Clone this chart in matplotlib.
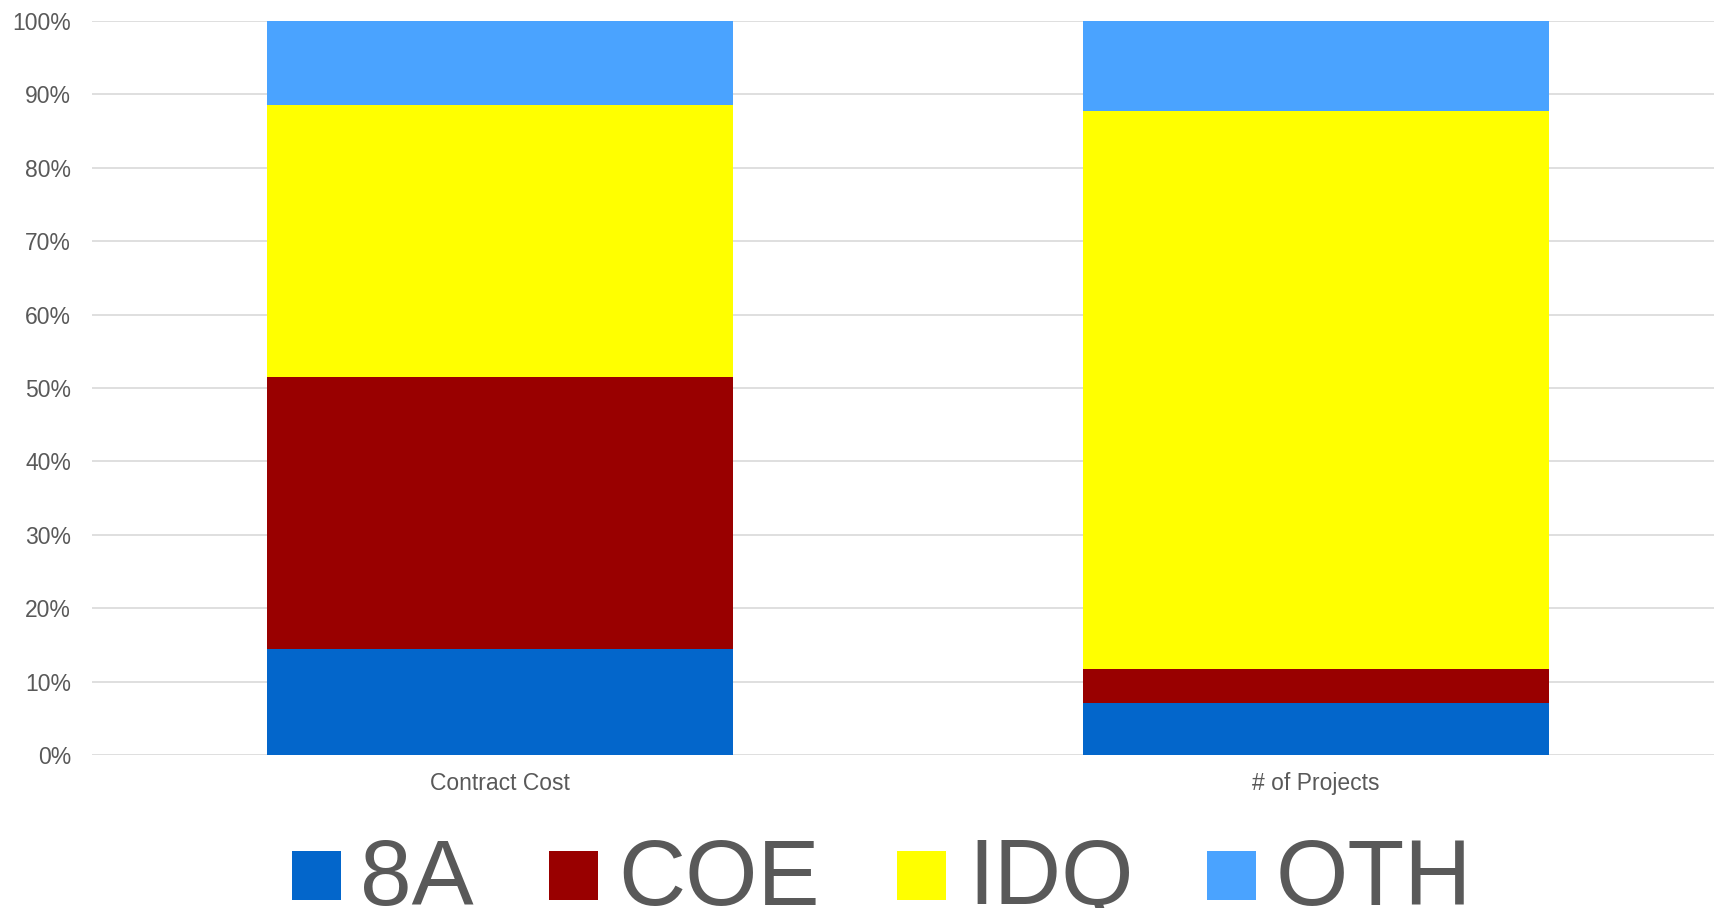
import matplotlib
matplotlib.use("Agg")
import matplotlib.pyplot as plt
from matplotlib.patches import Rectangle
from matplotlib.ticker import PercentFormatter
import numpy as np

plt.rcParams['font.family'] = ['Liberation Sans', 'DejaVu Sans']

categories = ["Contract Cost", "# of Projects"]
series_names = ["8A", "COE", "IDQ", "OTH"]
val_8a = [14.4, 7.1]
val_coe = [37.1, 4.6]
val_idq = [37.0, 76.0]
val_oth = [11.5, 12.3]
colors = ["#0366CB", "#990000", "#FFFF00", "#4AA3FF"]

W, H = 1714, 908
fig = plt.figure(figsize=(W / 100, H / 100), dpi=100)
ax = fig.add_axes([92 / W, (H - 755) / H, (W - 92) / W, (755 - 21) / H])

x = np.arange(len(categories))
bottom = np.zeros(len(categories))
for name, vals, c in zip(series_names, [val_8a, val_coe, val_idq, val_oth], colors):
    ax.bar(x, vals, width=0.571, bottom=bottom, color=c, edgecolor='none', zorder=3, label=name)
    bottom += np.array(vals)

ax.set_ylim(0, 100)
ax.set_xlim(-0.5, 1.4877)
ax.set_yticks(np.arange(0, 101, 10))
ax.yaxis.set_major_formatter(PercentFormatter(decimals=0))
ax.set_xticks(x)
ax.set_xticklabels(categories)
ax.grid(axis='y', color='#D9D9D9', linewidth=1.2, zorder=0)
for s in ax.spines.values():
    s.set_visible(False)
ax.tick_params(axis='both', length=0, labelsize=16.5, colors='#595959')
ax.tick_params(axis='y', pad=15)
ax.tick_params(axis='x', pad=12)

# legend drawn at the bottom (large)
sq_left = [292, 549, 897, 1207]
txt_left = [360, 618, 968, 1276]
sq_top, sq_bot = 851, 900
for name, c, sx, tx in zip(series_names, colors, sq_left, txt_left):
    fig.add_artist(Rectangle((sx / W, (H - sq_bot) / H), 49 / W, (sq_bot - sq_top) / H,
                             transform=fig.transFigure, facecolor=c, edgecolor='none'))
    fig.text(tx / W, (H - 904.5) / H, name, fontsize=67, color='#595959',
             ha='left', va='baseline')

fig.savefig("out.png", dpi=100)
